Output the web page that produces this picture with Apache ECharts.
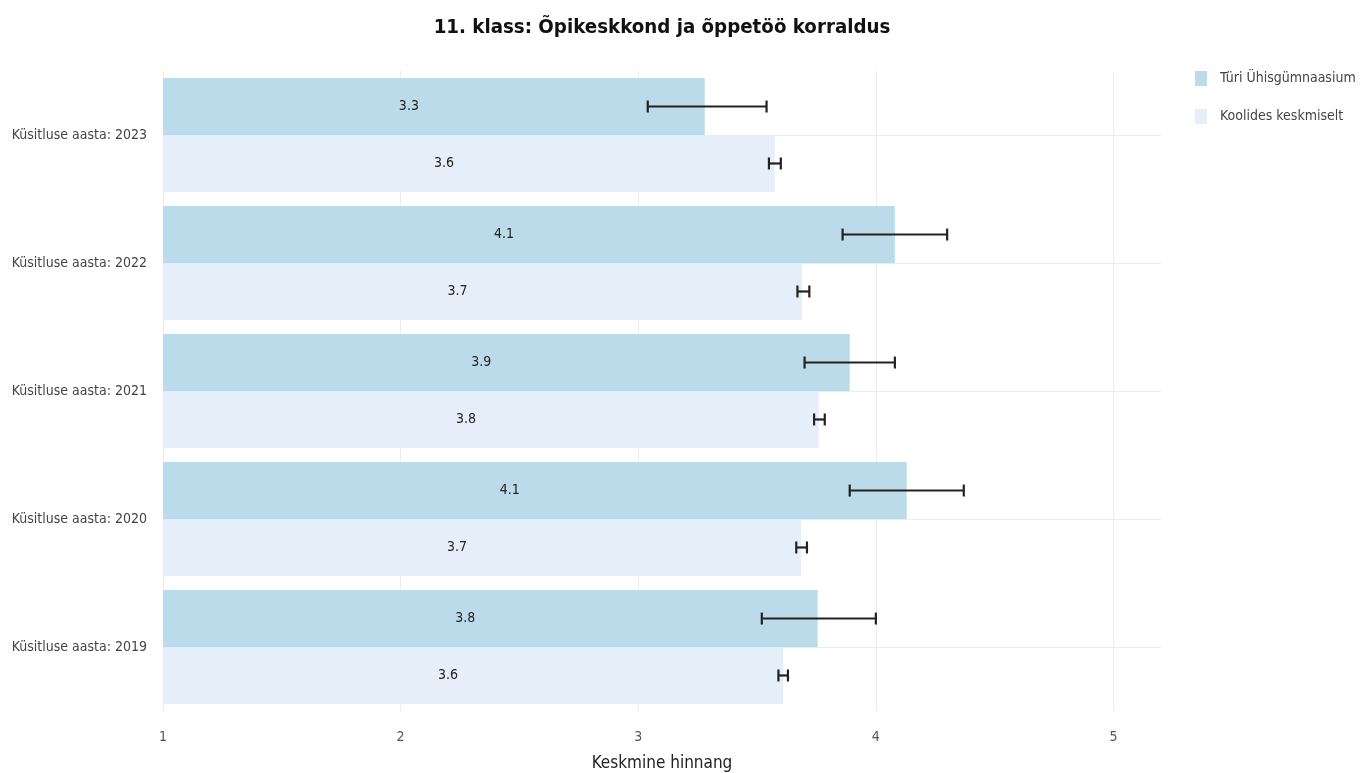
<!DOCTYPE html>
<html>
<head>
<meta charset="utf-8">
<script src="https://cdn.jsdelivr.net/npm/echarts@6/dist/echarts.min.js"></script>
<style>html,body{margin:0;padding:0;background:#fff;overflow:hidden}#c{width:1367px;height:773px}</style>
</head>
<body>
<div id="c"></div>
<script>
const categories = ['Küsitluse aasta: 2023','Küsitluse aasta: 2022','Küsitluse aasta: 2021','Küsitluse aasta: 2020','Küsitluse aasta: 2019'];
const seriesNames = ['Türi Ühisgümnaasium','Koolides keskmiselt'];
const turiValues = [3.28, 4.08, 3.89, 4.13, 3.755];
const turiLow = [3.04, 3.86, 3.70, 3.89, 3.52];
const turiHigh = [3.54, 4.30, 4.08, 4.37, 4.00];
const koolValues = [3.575, 3.69, 3.76, 3.685, 3.61];
const koolLow = [3.55, 3.67, 3.74, 3.665, 3.59];
const koolHigh = [3.60, 3.72, 3.785, 3.71, 3.63];
const turiLabels = ['3.3','4.1','3.9','4.1','3.8'];
const koolLabels = ['3.6','3.7','3.8','3.7','3.6'];
const xTicks = [1,2,3,4,5];

const FONT = 'DejaVu Sans Condensed';
const GAP = 0.11;
const chart = echarts.init(document.getElementById('c'), null, { width: 1367, height: 773 });

function errSeries(name, low, high, sign) {
  return {
    type: 'custom', name: name + ' err', z: 5, silent: true,
    data: categories.map((c, i) => [i, low[i], high[i]]),
    encode: { y: 0, x: [1, 2] },
    renderItem: function (params, api) {
      const ci = api.value(0);
      const p1 = api.coord([api.value(1), ci]);
      const p2 = api.coord([api.value(2), ci]);
      const band = api.size([0, 1])[1];
      const off = sign * band * (1 - GAP) / 4;
      const y = p1[1] + off;
      const h = 6;
      const st = { stroke: '#222', lineWidth: 2.2, fill: null };
      return { type: 'group', children: [
        { type: 'line', shape: { x1: p1[0], y1: y, x2: p2[0], y2: y }, style: st },
        { type: 'line', shape: { x1: p1[0], y1: y - h, x2: p1[0], y2: y + h }, style: st },
        { type: 'line', shape: { x1: p2[0], y1: y - h, x2: p2[0], y2: y + h }, style: st }
      ]};
    }
  };
}

function barSeries(name, vals, labels, color) {
  return {
    type: 'bar', name: name, barGap: 0, barCategoryGap: (GAP * 100) + '%', z: 3,
    data: vals, itemStyle: { color: color },
    label: { show: true, position: 'inside', offset: [-25, 0], formatter: p => labels[p.dataIndex],
      fontFamily: FONT, fontSize: 14, color: '#222' }
  };
}

chart.setOption({
  animation: false,
  title: { text: '11. klass: Õpikeskkond ja õppetöö korraldus', left: 657, textAlign: 'center', top: 13,
    textStyle: { fontFamily: FONT, fontWeight: 'bold', fontSize: 20.3, color: '#111' } },
  legend: { orient: 'vertical', left: 1190, top: 66, itemGap: 23, itemWidth: 12, itemHeight: 15,
    data: seriesNames, icon: 'rect',
    textStyle: { fontFamily: FONT, fontSize: 14, color: '#444', padding: [0, 0, 0, 8] } },
  grid: { left: 163, width: 998, top: 71, height: 640, containLabel: false, outerBoundsMode: 'none' },
  xAxis: { type: 'value', min: 1, max: 5.2, interval: 1,
    name: 'Keskmine hinnang', nameLocation: 'middle', nameGap: 44,
    nameTextStyle: { fontFamily: FONT, fontSize: 17, color: '#222' },
    axisLine: { show: false }, axisTick: { show: false },
    axisLabel: { fontFamily: FONT, fontSize: 14, color: '#555', margin: 19,
      formatter: v => xTicks.includes(v) ? String(v) : '' },
    splitLine: { show: true, showMaxLine: false, lineStyle: { color: '#ececec', width: 1 } } },
  yAxis: { type: 'category', data: categories, inverse: true,
    axisLine: { show: false }, axisTick: { show: false },
    axisLabel: { fontFamily: FONT, fontSize: 14, color: '#444', margin: 16 },
    splitLine: { show: false } },
  series: [
    { type: 'line', name: 'grid', z: 0, silent: true, data: [], symbol: 'none',
      markLine: { silent: true, symbol: 'none', label: { show: false },
        lineStyle: { color: '#ececec', width: 1, type: 'solid' },
        data: categories.map(c => ({ yAxis: c })) } },
    barSeries(seriesNames[0], turiValues, turiLabels, '#bcdbea'),
    barSeries(seriesNames[1], koolValues, koolLabels, '#e6eff9'),
    errSeries(seriesNames[0], turiLow, turiHigh, -1),
    errSeries(seriesNames[1], koolLow, koolHigh, 1)
  ]
});
</script>
</body>
</html>
